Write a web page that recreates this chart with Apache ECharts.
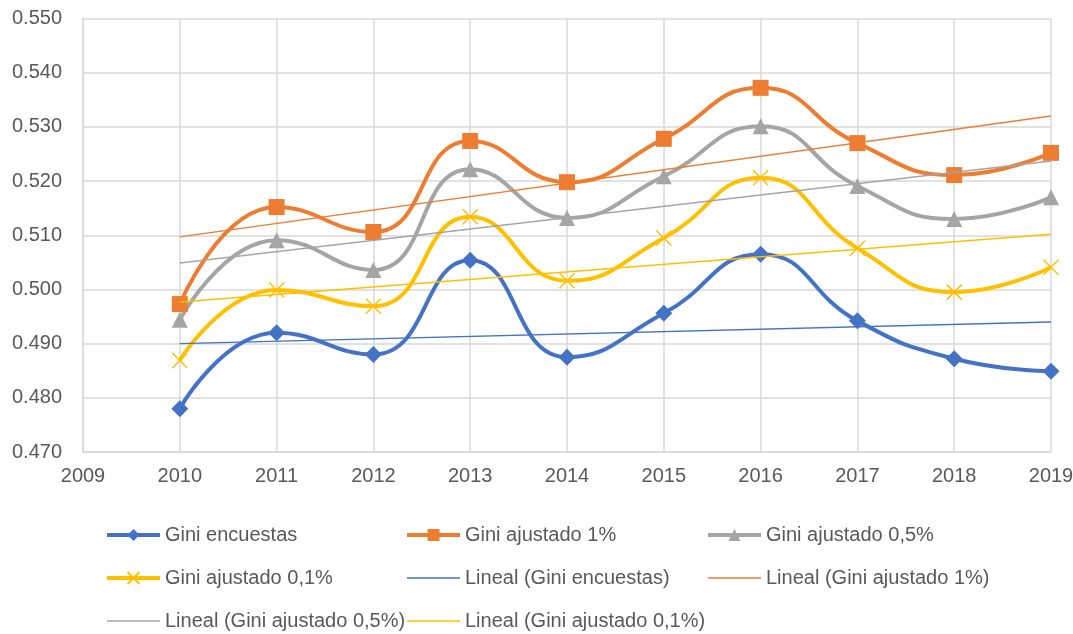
<!DOCTYPE html>
<html>
<head>
<meta charset="utf-8">
<script src="https://cdn.jsdelivr.net/npm/echarts@6/dist/echarts.min.js"></script>
<style>
  html, body { margin: 0; padding: 0; background: #fff; }
  #chart { width: 1073px; height: 634px; }
</style>
</head>
<body>
<div id="chart"></div>
<script>
// datos
const years = [2010, 2011, 2012, 2013, 2014, 2015, 2016, 2017, 2018, 2019];
const giniEncuestas = [0.478, 0.492, 0.488, 0.5054, 0.4875, 0.4956, 0.5065, 0.4942, 0.4872, 0.4849];
const giniAj1 = [0.4973, 0.5152, 0.5106, 0.5274, 0.5198, 0.5278, 0.5372, 0.5270, 0.5211, 0.5252];
const giniAj05 = [0.4944, 0.5091, 0.5036, 0.5222, 0.5132, 0.5209, 0.5301, 0.5191, 0.5130, 0.5170];
const giniAj01 = [0.4869, 0.4999, 0.4969, 0.5134, 0.5016, 0.5095, 0.5206, 0.5076, 0.4995, 0.5041];

// extremos de las lineas de tendencia (2010 y 2019)
const trendYears = [2010, 2019];
const trendEncuestas = [0.4900, 0.4940];
const trendAj1 = [0.5097, 0.5320];
const trendAj05 = [0.5049, 0.5237];
const trendAj01 = [0.4977, 0.5102];

const font = "'Liberation Sans', Arial, sans-serif";
const textColor = '#595959';
const gridColor = '#d9d9d9';

function pairs(xs, ys) {
  return xs.map((x, i) => [x, ys[i]]);
}

function mainSeries(name, color, symbol, size, data, extra) {
  return Object.assign({
    name: name,
    type: 'line',
    smooth: 0.5,
    symbol: symbol,
    symbolSize: size,
    color: color,
    lineStyle: {color: color, width: 4},
    itemStyle: {color: color},
    data: pairs(years, data),
    z: 2
  }, extra || {});
}

function trendSeries(name, color, data) {
  return {
    name: name,
    type: 'line',
    symbol: 'none',
    color: color,
    lineStyle: {color: color, width: 1.5},
    data: pairs(trendYears, data),
    z: 3
  };
}

// entradas de leyenda: las series principales con linea gruesa, las tendencias sin marcador
function mainItem(name) {
  return {name: name, lineStyle: {width: 4}};
}
function trendItem(name) {
  return {name: name, lineStyle: {width: 1.5}, itemStyle: {opacity: 0}};
}

let myChart = echarts.init(document.getElementById('chart'));

const legendBase = {
  orient: 'vertical',
  top: 525,
  padding: 0,
  itemWidth: 53,
  itemHeight: 15,
  itemGap: 23,
  textStyle: {fontFamily: font, fontSize: 20, color: textColor, lineHeight: 20, padding: [0, 0, 0, 0]}
};

let option = {
  animation: false,
  textStyle: {fontFamily: font},
  grid: {left: 83, right: 22, top: 18.5, bottom: 182, outerBoundsMode: 'none'},
  legend: [
    Object.assign({}, legendBase, {left: 105, data: [mainItem('Gini encuestas'), mainItem('Gini ajustado 0,1%'), trendItem('Lineal (Gini ajustado 0,5%)')]}),
    Object.assign({}, legendBase, {left: 405, data: [mainItem('Gini ajustado 1%'), trendItem('Lineal (Gini encuestas)'), trendItem('Lineal (Gini ajustado 0,1%)')]}),
    Object.assign({}, legendBase, {left: 706, data: [mainItem('Gini ajustado 0,5%'), trendItem('Lineal (Gini ajustado 1%)')]})
  ],
  xAxis: {
    type: 'value',
    min: 2009,
    max: 2019,
    interval: 1,
    axisLine: {show: true, lineStyle: {color: gridColor, width: 1.5}},
    axisTick: {show: false},
    splitLine: {show: true, lineStyle: {color: gridColor, width: 1.5}},
    axisLabel: {color: textColor, fontSize: 20, fontFamily: font, margin: 14, formatter: v => String(v)}
  },
  yAxis: {
    type: 'value',
    min: 0.47,
    max: 0.55,
    interval: 0.01,
    axisLine: {show: true, lineStyle: {color: gridColor, width: 1.5}},
    axisTick: {show: false},
    splitLine: {show: true, lineStyle: {color: gridColor, width: 1.5}},
    axisLabel: {color: textColor, fontSize: 20, fontFamily: font, margin: 21, formatter: v => v.toFixed(3)}
  },
  series: [
    mainSeries('Gini encuestas', '#4472C4', 'diamond', 17, giniEncuestas),
    mainSeries('Gini ajustado 1%', '#ED7D31', 'rect', 16, giniAj1),
    mainSeries('Gini ajustado 0,5%', '#A5A5A5', 'triangle', 16, giniAj05),
    mainSeries('Gini ajustado 0,1%', '#FFC000', 'path://M0,0L10,10M10,0L0,10', 15, giniAj01, {
      itemStyle: {color: 'rgba(0,0,0,0)', borderColor: '#FFC000', borderWidth: 1.5}
    }),
    trendSeries('Lineal (Gini encuestas)', '#4472C4', trendEncuestas),
    trendSeries('Lineal (Gini ajustado 1%)', '#ED7D31', trendAj1),
    trendSeries('Lineal (Gini ajustado 0,5%)', '#A5A5A5', trendAj05),
    trendSeries('Lineal (Gini ajustado 0,1%)', '#FFC000', trendAj01)
  ]
};

myChart.setOption(option);
</script>
</body>
</html>
